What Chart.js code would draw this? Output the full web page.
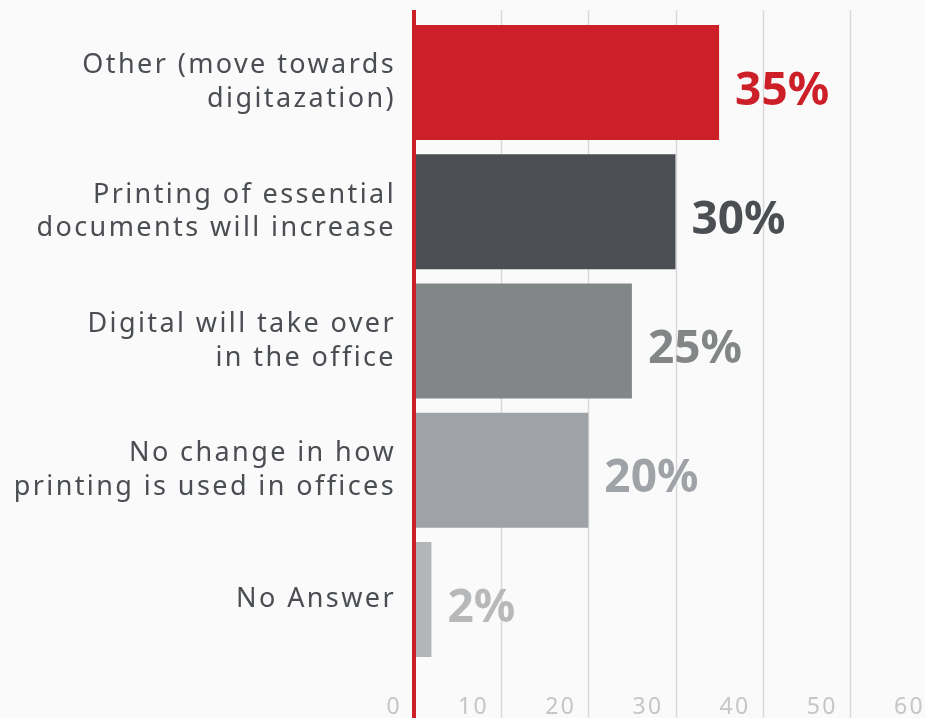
<!DOCTYPE html>
<html>
<head>
<meta charset="utf-8">
<script src="https://cdn.jsdelivr.net/npm/chart.js@4.4.1/dist/chart.umd.min.js"></script>
<style>
  html, body { margin: 0; padding: 0; background: #fafafa; overflow: hidden; }
  #wrap { width: 960px; height: 718px; }
</style>
</head>
<body>
<div id="wrap"><canvas id="printChart" width="960" height="718"></canvas></div>
<script>
const categories = [
    ['Other (move towards', 'digitazation)'],
    ['Printing of essential', 'documents will increase'],
    ['Digital will take over', 'in the office'],
    ['No change in how', 'printing is used in offices'],
    ['No Answer']
];
const percentages = [35, 30, 25, 20, 2];
const xTicks = [0, 10, 20, 30, 40, 50, 60];

const barColors = ['#cc1f27', '#4b4e53', '#838687', '#9fa2a6', '#b3b5b7'];
const labelColors = ['#cc1f27', '#4b4e53', '#838687', '#9fa2a6', '#b6b8ba'];

// wide tracking for the axis text
const spacingPlugin = {
    id: 'letterSpacing',
    beforeDraw(chart) { chart.ctx.letterSpacing = '2.4px'; }
};

// grid lines + red zero line, running past the plot area
const gridPlugin = {
    id: 'gridLines',
    beforeDatasetsDraw(chart) {
        const ctx = chart.ctx;
        const xs = chart.scales.x;
        ctx.save();
        xTicks.forEach(v => {
            if (v === 0) return;
            const px = Math.round(xs.getPixelForValue(v)) + 0.5;
            ctx.strokeStyle = '#d9d9d9';
            ctx.lineWidth = 1.5;
            ctx.beginPath();
            ctx.moveTo(px, 10);
            ctx.lineTo(px, chart.height);
            ctx.stroke();
        });
        ctx.restore();
    },
    afterDatasetsDraw(chart) {
        const ctx = chart.ctx;
        const px = chart.scales.x.getPixelForValue(0);
        ctx.save();
        ctx.fillStyle = '#cc1f27';
        ctx.fillRect(px - 2, 10, 4, chart.height - 10);
        ctx.restore();
    }
};

// percentage text at the end of every bar
const valuePlugin = {
    id: 'valueLabels',
    afterDatasetsDraw(chart) {
        const ctx = chart.ctx;
        const meta = chart.getDatasetMeta(0);
        ctx.save();
        ctx.letterSpacing = '0px';
        ctx.font = 'bold 46px "Noto Sans"';
        ctx.textAlign = 'left';
        ctx.textBaseline = 'middle';
        meta.data.forEach((bar, i) => {
            ctx.fillStyle = labelColors[i];
            ctx.fillText(percentages[i] + '%', bar.x + 16, bar.y + 9);
        });
        ctx.restore();
    }
};

new Chart(document.getElementById('printChart'), {
    type: 'bar',
    data: {
        labels: categories,
        datasets: [{
            data: percentages,
            backgroundColor: barColors,
            borderWidth: 0,
            barPercentage: 1,
            categoryPercentage: 0.89
        }]
    },
    options: {
        indexAxis: 'y',
        responsive: false,
        animation: false,
        layout: { padding: { top: 18, right: 23, left: 0, bottom: 0 } },
        plugins: {
            legend: { display: false },
            tooltip: { enabled: false }
        },
        scales: {
            x: {
                min: 0,
                max: 60,
                grid: { display: false },
                border: { display: false },
                afterBuildTicks(scale) {
                    scale.ticks = xTicks.map(v => ({ value: v }));
                },
                afterFit(scale) {
                    scale.height = 54;
                    scale.paddingLeft = 0;
                    scale.paddingRight = 0;
                },
                ticks: {
                    align: 'end',
                    labelOffset: -12,
                    padding: 22,
                    color: '#c6c6c6',
                    font: { family: '"Noto Sans"', size: 23 }
                }
            },
            y: {
                grid: { display: false },
                border: { display: false },
                afterFit(scale) {
                    scale.width = 414;
                    scale.paddingTop = 0;
                    scale.paddingBottom = 0;
                },
                ticks: {
                    padding: 10,
                    color: '#4a4d52',
                    font: { family: '"Noto Sans"', size: 27, lineHeight: 1.25 }
                }
            }
        }
    },
    plugins: [spacingPlugin, gridPlugin, valuePlugin]
});
</script>
</body>
</html>
